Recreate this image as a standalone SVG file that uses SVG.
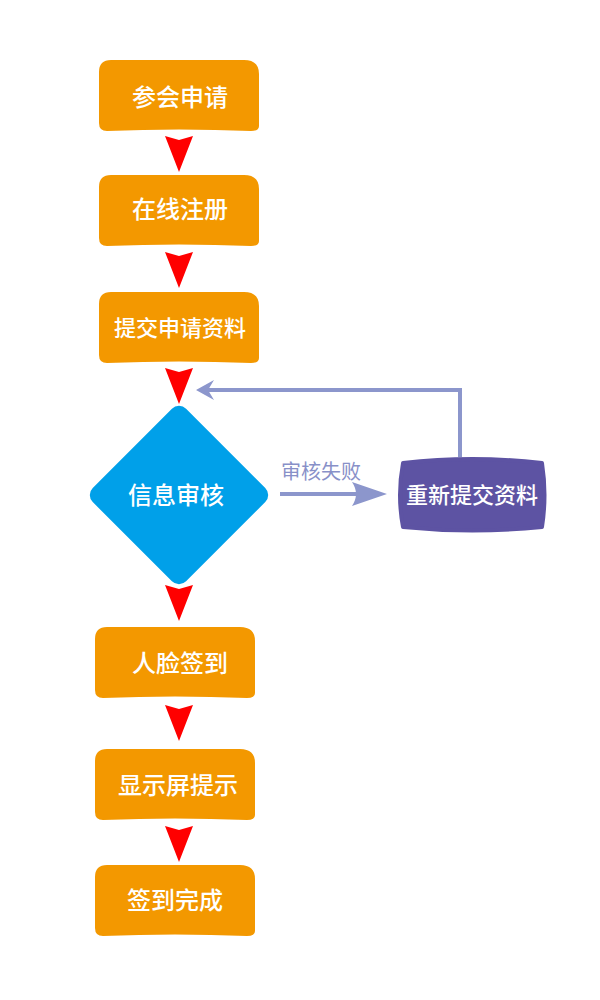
<svg xmlns="http://www.w3.org/2000/svg" width="600" height="1000" viewBox="0 0 600 1000">
<style>
.box{fill:#f39800}
.t{font-family:"Noto Sans CJK SC","Noto Sans",sans-serif;fill:#fff;font-weight:500;text-anchor:middle}
.red{fill:#ff0000}
.fb{stroke:#8c96cc;stroke-width:4;fill:none}
</style>
<defs>
<path id="bx" d="M12,0 H145 Q160,0 160,14 V66 Q160,71 152,71 Q80,68 8,71 Q0,71 0,63 V12 Q0,0 12,0 Z"/>
<path id="ar" d="M0,0 L14,4 L28,0 L14,36 Z"/>
</defs>
<rect width="600" height="1000" fill="#fff"/>
<g id="n1"><use href="#bx" class="box" x="99" y="60"/><text class="t" x="180" y="106" font-size="24">参会申请</text></g>
<g id="n2"><use href="#bx" class="box" x="99" y="175"/><text class="t" x="180" y="218" font-size="24">在线注册</text></g>
<g id="n3"><use href="#bx" class="box" x="99" y="292"/><text class="t" x="180" y="336" font-size="22">提交申请资料</text></g>
<g id="n4"><rect x="113" y="429" width="132" height="132" rx="10" transform="rotate(45 179 495)" fill="#00a0e9"/><text class="t" x="176" y="504" font-size="24">信息审核</text></g>
<g id="n5"><path d="M403,463 Q472,455 542,463 Q547,495 542,527 Q472,534 403,527 Q397,495 403,463 Z" fill="#5d53a3" stroke="#5d53a3" stroke-width="4" stroke-linejoin="round"/><text class="t" x="472" y="503" font-size="22">重新提交资料</text></g>
<g id="n6"><use href="#bx" class="box" x="95" y="627"/><text class="t" x="180" y="672" font-size="24">人脸签到</text></g>
<g id="n7"><use href="#bx" class="box" x="95" y="749"/><text class="t" x="178" y="794" font-size="24">显示屏提示</text></g>
<g id="n8"><use href="#bx" class="box" x="95" y="865"/><text class="t" x="175" y="909" font-size="24">签到完成</text></g>
<g id="connectors">
<use href="#ar" class="red" x="165" y="136"/>
<use href="#ar" class="red" x="165" y="252"/>
<use href="#ar" class="red" x="165" y="368"/>
<use href="#ar" class="red" x="165" y="585"/>
<use href="#ar" class="red" x="165" y="705"/>
<use href="#ar" class="red" x="165" y="826"/>
<polyline class="fb" points="460,457 460,390 200,390"/>
<path d="M196,390 L214,380 L208,390 L214,400 Z" fill="#8c96cc"/>
<line class="fb" x1="280" y1="494" x2="370" y2="494"/>
<path d="M387,494 L352,482 Q360,494 352,506 Z" fill="#8c96cc"/>
<text x="321" y="479" font-family="Noto Sans CJK SC,sans-serif" font-size="20" fill="#8890c8" text-anchor="middle">审核失败</text>
</g>
</svg>
